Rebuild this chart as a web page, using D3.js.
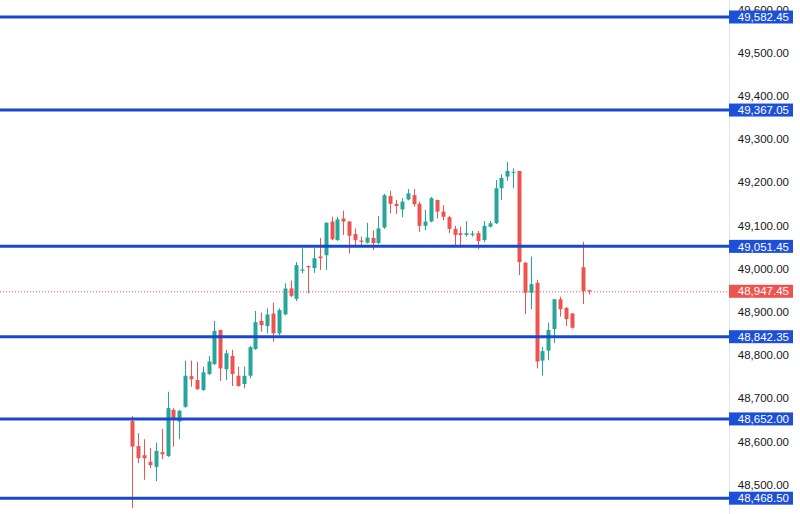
<!DOCTYPE html>
<html>
<head>
<meta charset="utf-8">
<script src="https://cdn.jsdelivr.net/npm/d3@7"></script>
<style>
  html, body { margin: 0; padding: 0; background: #fff; }
  svg { display: block; font-family: "Liberation Sans", Arial, sans-serif; }
</style>
</head>
<body>
<div id="chart"></div>
<script>
// ========================================
// Data
// ========================================
// slot index of each candle (one empty slot before the last two)
const slots = [
   0,  1,  2,  3,  4,  5,  6,  7,  8,  9, 10, 11, 12, 13, 14, 15, 16, 17, 18, 19,
  20, 21, 22, 23, 24, 25, 26, 27, 28, 29, 30, 31, 32, 33, 34, 35, 36, 37, 38, 39,
  40, 41, 42, 43, 44, 45, 46, 47, 48, 49, 50, 51, 52, 53, 54, 55, 56, 57, 58, 59,
  60, 61, 62, 63, 64, 65, 66, 67, 68, 69, 70, 71, 72, 73, 74, 75, 77, 78
];
const opens = [
  48647, 48589, 48568, 48553, 48541, 48575, 48566, 48673, 48646, 48680,
  48751, 48742, 48719, 48756, 48779, 48858, 48767, 48798, 48752, 48733,
  48752, 48814, 48879, 48867, 48896, 48850, 48894, 48954, 48930, 48995,
  49006, 49001, 49028, 49031, 49109, 49066, 49116, 49109, 49080, 49065,
  49060, 49071, 49059, 49095, 49168, 49150, 49137, 49160, 49170, 49150,
  49099, 49109, 49159, 49132, 49119, 49092, 49082, 49078, 49078, 49082,
  49066, 49097, 49105, 49186, 49213, 49223, 49226, 49014, 48944, 48967,
  48787, 48810, 48860, 48929, 48909, 48896, 49003, 48950
];
const highs = [
  48659, 48619, 48605, 48585, 48597, 48629, 48715, 48677, 48673, 48787,
  48787, 48784, 48773, 48798, 48879, 48858, 48812, 48812, 48773, 48773,
  48821, 48902, 48898, 48908, 48921, 48908, 48966, 48972, 49015, 49047,
  49007, 49047, 49071, 49108, 49120, 49120, 49134, 49110, 49093, 49074,
  49106, 49088, 49122, 49173, 49180, 49159, 49163, 49184, 49184, 49155,
  49136, 49166, 49159, 49147, 49122, 49099, 49097, 49110, 49087, 49087,
  49110, 49110, 49205, 49218, 49247, 49232, 49226, 49014, 49028, 48974,
  48819, 48875, 48930, 48935, 48911, 48897, 49062, 48951
];
const lows = [
  48446, 48550, 48511, 48538, 48508, 48559, 48564, 48588, 48605, 48678,
  48727, 48719, 48717, 48754, 48777, 48740, 48742, 48728, 48727, 48723,
  48746, 48812, 48854, 48850, 48831, 48846, 48892, 48934, 48925, 48989,
  48943, 48990, 48997, 48997, 49066, 49064, 49078, 49035, 49052, 49051,
  49058, 49043, 49057, 49092, 49128, 49126, 49119, 49158, 49143, 49085,
  49089, 49107, 49116, 49112, 49082, 49053, 49053, 49074, 49074, 49045,
  49061, 49095, 49103, 49159, 49203, 49186, 48985, 48895, 48906, 48769,
  48752, 48788, 48828, 48889, 48867, 48861, 48918, 48940
];
const closes = [
  48588, 48561, 48561, 48545, 48578, 48570, 48677, 48650, 48671, 48752,
  48744, 48721, 48760, 48785, 48856, 48769, 48804, 48756, 48728, 48752,
  48818, 48876, 48869, 48894, 48850, 48904, 48954, 48937, 49008, 48998,
  49003, 49024, 49024, 49106, 49068, 49114, 49109, 49076, 49066, 49062,
  49072, 49059, 49093, 49170, 49150, 49145, 49155, 49174, 49149, 49099,
  49109, 49163, 49132, 49120, 49092, 49078, 49078, 49082, 49081, 49064,
  49099, 49105, 49186, 49210, 49226, 49224, 49015, 48944, 48964, 48785,
  48809, 48858, 48929, 48906, 48883, 48863, 48948, 48947.45
];

// horizontal levels and the last price
const levels = [49582.45, 49367.05, 49051.45, 48842.35, 48652.00, 48468.50];
const lastPrice = 48947.45;
const tickValues = [49600, 49500, 49400, 49300, 49200, 49100, 49000, 48900, 48800, 48700, 48600, 48500];

// ========================================
// Dimensions and colours
// ========================================
const
  width = 800,
  height = 514,
  plotRight = 729,          // price scale starts here
  upColor = '#26a69a',
  downColor = '#ef5350',
  levelColor = '#1a48cc',
  boxColor = '#1d50d8',
  textColor = '#131722';

const candles = slots.map((s, i) => ({
  slot: s, open: opens[i], high: highs[i], low: lows[i], close: closes[i]
}));

const svg = d3.select('#chart')
  .append('svg')
    .attr('width', width)
    .attr('height', height);

// scales
const xScale = d3.scaleLinear()
  .domain([-22.6, 101.85])
  .range([0, plotRight]);

const yScale = d3.scaleLinear()
  .domain([48431.9, 49621.8])
  .range([height, 0]);

const step = xScale(1) - xScale(0);
const bodyW = step * 0.68;

// ========================================
// Price axis (right)
// ========================================
svg.append('line')
  .attr('x1', plotRight + 0.5).attr('x2', plotRight + 0.5)
  .attr('y1', 0).attr('y2', height)
  .attr('stroke', '#e0e3eb');

const yAxis = d3.axisRight(yScale)
  .tickValues(tickValues)
  .tickSize(0)
  .tickFormat(d3.format(',.2f'));

svg.append('g')
  .attr('transform', `translate(${plotRight}, 0)`)
  .call(yAxis)
  .call(g => g.select('.domain').remove())
  .selectAll('text')
    .attr('x', 60)
    .attr('text-anchor', 'end')
    .attr('fill', textColor)
    .style('font-size', '11.5px')
    .style('font-family', '"Liberation Sans", Arial, sans-serif');

// ========================================
// Candles
// ========================================
const cg = svg.append('g');

cg.selectAll('line.wick')
  .data(candles)
  .enter()
  .append('line')
    .attr('class', 'wick')
    .attr('x1', d => Math.round(xScale(d.slot)) + 0.5)
    .attr('x2', d => Math.round(xScale(d.slot)) + 0.5)
    .attr('y1', d => yScale(d.high))
    .attr('y2', d => yScale(d.low))
    .attr('stroke', d => d.close >= d.open ? upColor : downColor)
    .attr('stroke-width', 1);

cg.selectAll('rect.body')
  .data(candles)
  .enter()
  .append('rect')
    .attr('class', 'body')
    .attr('x', d => Math.round(xScale(d.slot)) + 0.5 - bodyW / 2)
    .attr('width', bodyW)
    .attr('y', d => yScale(Math.max(d.open, d.close)))
    .attr('height', d => Math.max(1, Math.abs(yScale(d.open) - yScale(d.close))))
    .attr('fill', d => d.close >= d.open ? upColor : downColor);

// ========================================
// Last price dotted line
// ========================================
svg.append('line')
  .attr('x1', 0).attr('x2', plotRight)
  .attr('y1', yScale(lastPrice) + 0.5).attr('y2', yScale(lastPrice) + 0.5)
  .attr('stroke', downColor)
  .attr('stroke-width', 1)
  .attr('stroke-dasharray', '1,2');

// ========================================
// Horizontal levels
// ========================================
svg.selectAll('line.level')
  .data(levels)
  .enter()
  .append('line')
    .attr('class', 'level')
    .attr('x1', 0).attr('x2', plotRight)
    .attr('y1', d => yScale(d)).attr('y2', d => yScale(d))
    .attr('stroke', levelColor)
    .attr('stroke-width', 3);

// price labels on the scale
const labels = levels.map(v => ({ value: v, color: boxColor }))
  .concat([{ value: lastPrice, color: downColor }]);

const lg = svg.selectAll('g.plabel')
  .data(labels)
  .enter()
  .append('g')
    .attr('class', 'plabel')
    .attr('transform', d => `translate(${plotRight}, ${yScale(d.value)})`);

lg.append('rect')
  .attr('x', 0)
  .attr('y', -6.5)
  .attr('width', 64)
  .attr('height', 13)
  .attr('fill', d => d.color);

lg.append('text')
  .attr('x', 60)
  .attr('y', 0)
  .attr('dy', '0.36em')
  .attr('text-anchor', 'end')
  .attr('fill', '#fff')
  .style('font-size', '11.5px')
  .text(d => d3.format(',.2f')(d.value));
</script>
</body>
</html>
